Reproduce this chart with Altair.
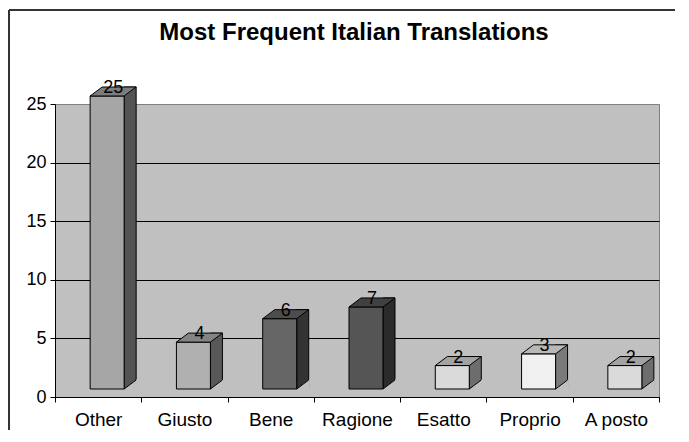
import altair as alt
import pandas as pd

# ---- data ----
categories = ["Other", "Giusto", "Bene", "Ragione", "Esatto", "Proprio", "A posto"]
counts = [25, 4, 6, 7, 2, 3, 2]
y_ticks = [0, 5, 10, 15, 20, 25]
title_text = ["Most Frequent Italian Translations"]

# ---- styles ----
front_colors = ["#A6A6A6", "#B0B0B0", "#666666", "#555555", "#DADADA", "#F0F0F0", "#DADADA"]
top_colors = ["#7C7C7C", "#848484", "#4D4D4D", "#404040", "#A3A3A3", "#B8B8B8", "#A3A3A3"]
side_colors = ["#535353", "#585858", "#333333", "#2B2B2B", "#6D6D6D", "#7A7A7A", "#6D6D6D"]

FONT = "Liberation Sans"
W, H = 604, 293
PLOT_BG = "#C0C0C0"

df = pd.DataFrame({"category": categories, "count": counts})

x_enc = alt.X(
    "category:N",
    sort=categories,
    scale=alt.Scale(paddingInner=0, paddingOuter=0),
    axis=alt.Axis(
        title=None, labelAngle=0, tickBand="extent", grid=False,
        tickSize=5, tickColor="black", domainColor="black",
        labelFont=FONT, labelFontSize=19, labelColor="black", labelPadding=8,
    ),
)
y_axis = alt.Axis(
    title=None, values=y_ticks, tickSize=5, tickColor="black", domainColor="black",
    labelFont=FONT, labelFontSize=18, labelColor="black", labelPadding=4,
    grid=True, gridWidth=1,
    gridColor={"condition": {"test": "datum.value === 25", "value": "#808080"}, "value": "black"},
)
y_enc = alt.Y("count:Q", scale=alt.Scale(domain=[0, 25], nice=False), axis=y_axis)


def fill_for(colors):
    return alt.Fill("category:N", scale=alt.Scale(domain=categories, range=colors), legend=None)


base = alt.Chart(df)

side = base.mark_bar(
    size=12, xOffset=32, yOffset=-17, y2Offset=-8, stroke="black", strokeWidth=1
).encode(x=x_enc, y=y_enc, y2=alt.datum(0), fill=fill_for(side_colors))

cover = base.mark_point(
    shape="M26,-8 L39,-18 L39,-7 L26,-7 Z", size=4, filled=True,
    fill=PLOT_BG, strokeWidth=0, opacity=1,
).encode(x=x_enc, y=alt.datum(0))

front = base.mark_bar(
    size=34, xOffset=9, yOffset=-8, y2Offset=-8, stroke="black", strokeWidth=1
).encode(x=x_enc, y=y_enc, y2=alt.datum(0), fill=fill_for(front_colors))

top = base.mark_point(
    shape="M-8,-8 L26,-8 L38,-17 L4,-17 Z", size=4, filled=True,
    stroke="black", strokeWidth=1, opacity=1,
).encode(x=x_enc, y=y_enc, fill=fill_for(top_colors))

slant = base.mark_point(
    shape="M26,-8 L38,-17", size=4, filled=False,
    stroke="black", strokeWidth=1, opacity=1,
).encode(x=x_enc, y=alt.datum(0))

labels = base.mark_text(
    dx=15, dy=-11, baseline="alphabetic", align="center",
    font=FONT, fontSize=18, color="black",
).encode(x=x_enc, y=y_enc, text="count:Q")

title = alt.Chart(pd.DataFrame({"t": title_text})).mark_text(
    font=FONT, fontSize=24, fontWeight="bold", color="black",
    align="center", baseline="alphabetic",
).encode(text="t:N", x=alt.value(299), y=alt.value(-64))

frame_df = pd.DataFrame({"f": [0]})
left_border = alt.Chart(frame_df).mark_rule(color="#333333", strokeWidth=2).encode(
    x=alt.value(-46), y=alt.value(-94), y2=alt.value(326)
)
top_border = alt.Chart(frame_df).mark_rule(color="#333333", strokeWidth=2).encode(
    x=alt.value(-46), x2=alt.value(620), y=alt.value(-94)
)

chart = alt.layer(
    left_border, top_border, side, cover, front, top, slant, labels, title
).resolve_scale(
    fill="independent"
).properties(
    width=W, height=H, padding={"left": 0, "top": 1, "right": 0, "bottom": 0}
).configure_view(fill=PLOT_BG, stroke="#808080", strokeWidth=1)

chart.save("out.html", embed_options={"renderer": "svg", "actions": False})
